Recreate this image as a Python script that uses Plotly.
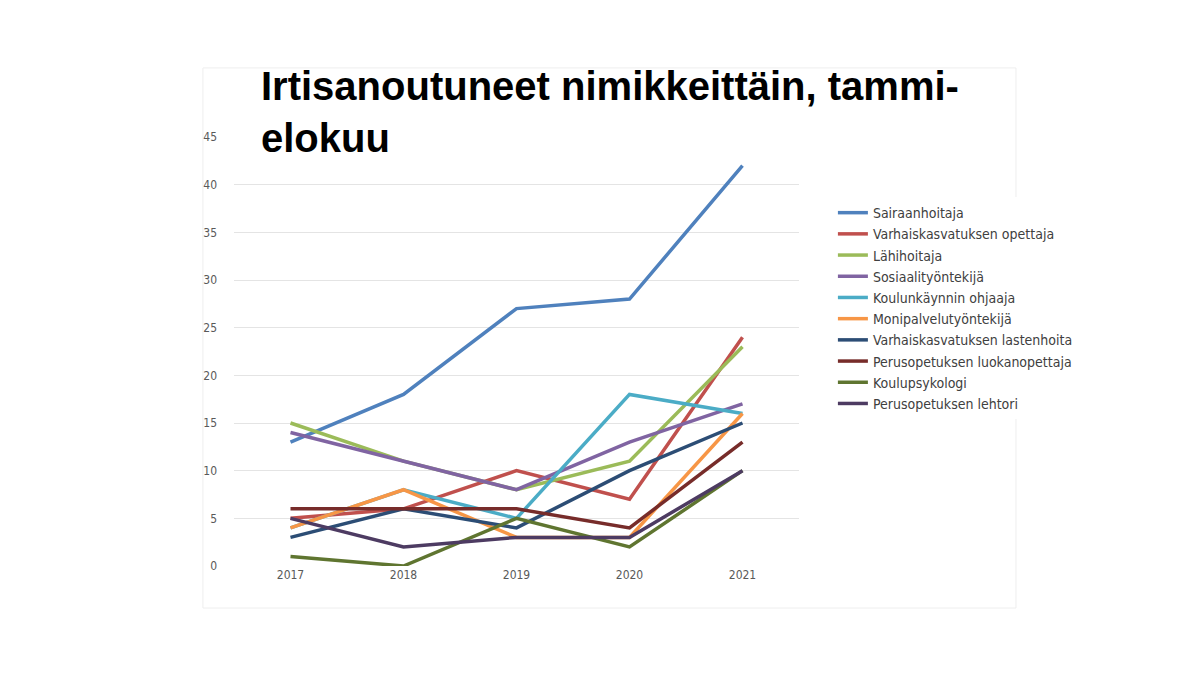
import plotly.graph_objects as go

years = [2017, 2018, 2019, 2020, 2021]
names = ["Sairaanhoitaja", "Varhaiskasvatuksen opettaja", "Lähihoitaja", "Sosiaalityöntekijä",
         "Koulunkäynnin ohjaaja", "Monipalvelutyöntekijä", "Varhaiskasvatuksen lastenhoita",
         "Perusopetuksen luokanopettaja", "Koulupsykologi", "Perusopetuksen lehtori"]
sairaanhoitaja = [13, 18, 27, 28, 42]
vk_opettaja = [5, 6, 10, 7, 24]
lahihoitaja = [15, 11, 8, 11, 23]
sosiaality = [14, 11, 8, 13, 17]
koulunkaynti = [4, 8, 5, 18, 16]
monipalvelu = [4, 8, 3, 3, 16]
vk_lastenhoito = [3, 6, 4, 10, 15]
luokanopettaja = [6, 6, 6, 4, 13]
koulupsykologi = [1, 0, 5, 2, 10]
lehtori = [5, 2, 3, 3, 10]
series = [sairaanhoitaja, vk_opettaja, lahihoitaja, sosiaality, koulunkaynti,
          monipalvelu, vk_lastenhoito, luokanopettaja, koulupsykologi, lehtori]
colors = ["#4F81BD", "#C0504D", "#9BBB59", "#8064A2", "#4BACC6",
          "#F79646", "#2C4D75", "#772C2A", "#5F7530", "#4D3B62"]

fig = go.Figure()
for n, s, c in zip(names, series, colors):
    fig.add_trace(go.Scatter(x=years, y=s, name=n, mode="lines",
                             line=dict(color=c, width=3.5)))

fig.update_layout(
    width=1200, height=675, paper_bgcolor="white", plot_bgcolor="white",
    margin=dict(l=226, r=409, t=129, b=117),
    font=dict(family="Liberation Sans Narrow, DejaVu Sans Condensed, sans-serif", color="#595959", size=12),
    xaxis=dict(tickvals=years, ticktext=[str(y) for y in years], range=[2016.5, 2021.5],
               showgrid=False, zeroline=False, ticks=""),
    yaxis=dict(range=[0, 45], dtick=5, gridcolor="#E4E4E4", zeroline=False, ticks="",
               ticklabelstandoff=16),
    legend=dict(x=1.06, y=0.86, yanchor="top", tracegroupgap=0,
                font=dict(size=14, color="#404040"), itemwidth=30),
    showlegend=True,
    shapes=[dict(type="rect", xref="paper", yref="paper", x0=-0.055, x1=1.384, y0=-0.098, y1=1.161,
                 line=dict(color="#EEEEEE", width=1), layer="below")],
    annotations=[dict(text="<b>Irtisanoutuneet nimikkeittäin, tammi-<br>elokuu</b>",
                      xref="paper", yref="paper", x=0.045, y=1.175, xanchor="left", yanchor="top",
                      showarrow=False, align="left",
                      font=dict(family="Liberation Sans, Arial, sans-serif", size=40, color="black"))],
)
fig.write_html("out.html")
